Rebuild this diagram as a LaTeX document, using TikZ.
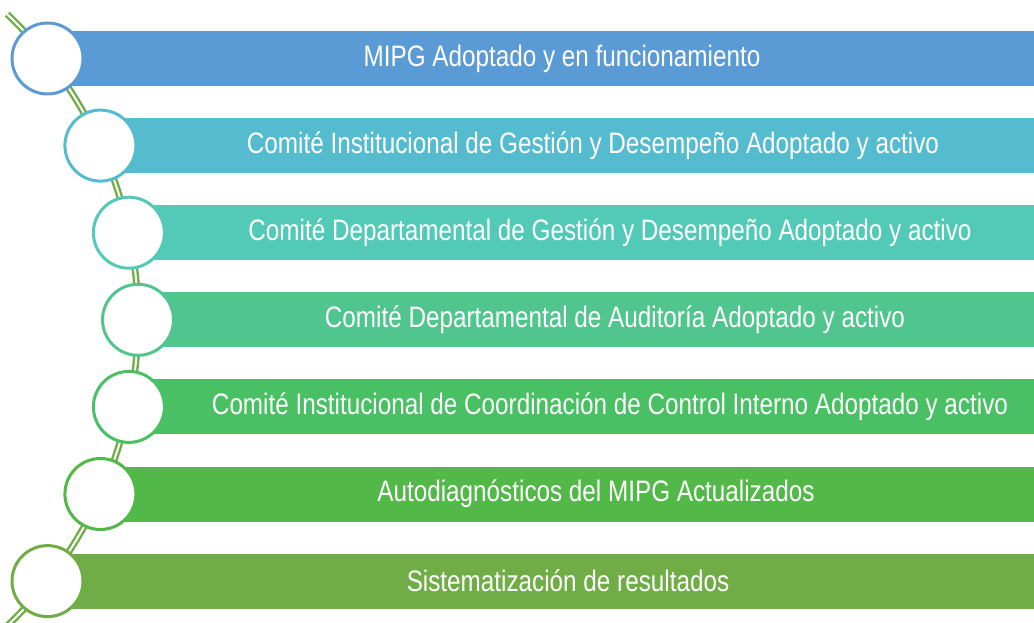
\documentclass[tikz,border=0pt]{standalone}
\usepackage{fontspec}
\setmainfont{Liberation Sans}[FakeStretch=0.82]
\usetikzlibrary{calc}
\definecolor{cAzul}{HTML}{5B9BD5}
\definecolor{cTurquesa}{HTML}{55BBCF}
\definecolor{cAguamarina}{HTML}{53CAB7}
\definecolor{cMenta}{HTML}{50C58E}
\definecolor{cVerdeClaro}{HTML}{4AC065}
\definecolor{cVerde}{HTML}{52B848}
\definecolor{cOliva}{HTML}{70AD47}

\begin{document}
\begin{tikzpicture}[
    x=0.5pt, y=0.5pt, font=\fontsize{14.8pt}{17pt}\selectfont,
    arco/.style={draw=cOliva, line width=1.2pt, double=white,
                 double distance=1pt},
    hito/.style={circle, fill=white, line width=1.5pt, inner sep=0pt,
                 minimum size=35.5pt},
    txt/.style={text=white, inner sep=0pt},
]
\useasboundingbox (0,0) rectangle (1034,622);
\clip (0,0) rectangle (1034,622);

% ===================== Arco de la lista =====================
\draw[arco] (-285,302) ++(-50:211.5pt)
      arc[start angle=-50, end angle=46.3, radius=211.5pt];

% ===================== Barras =====================
\fill[cAzul]       (47.5,536.0) rectangle (1034,591.0);
\fill[cTurquesa]   (100.4,448.9) rectangle (1034,503.9);
\fill[cAguamarina] (128.9,361.8) rectangle (1034,416.8);
\fill[cMenta]      (138.0,274.7) rectangle (1034,329.7);
\fill[cVerdeClaro] (128.9,187.6) rectangle (1034,242.6);
\fill[cVerde]      (100.4,100.5) rectangle (1034,155.5);
\fill[cOliva]      (47.5,13.4)   rectangle (1034,68.4);

% ===================== Circulos =====================
\node[hito, draw=cAzul]       (c1) at (47.5,563.5) {};
\node[hito, draw=cTurquesa]   (c2) at (100.4,476.4) {};
\node[hito, draw=cAguamarina] (c3) at (128.9,389.3) {};
\node[hito, draw=cMenta]      (c4) at (138.0,302.2) {};
\node[hito, draw=cVerdeClaro] (c5) at (128.9,215.1) {};
\node[hito, draw=cVerde]      (c6) at (100.4,128.0) {};
\node[hito, draw=cOliva]      (c7) at (47.5,40.9) {};

% ===================== Textos =====================
\node[txt] (t1) at (562,563.5) {MIPG Adoptado y en funcionamiento};
\node[txt] (t2) at (593,476.4)
      {Comité Institucional de Gestión y Desempeño Adoptado y activo};
\node[txt] (t3) at (610,389.3)
      {Comité Departamental de Gestión y Desempeño Adoptado y activo};
\node[txt] (t4) at (615,302.2)
      {Comité Departamental de Auditoría Adoptado y activo};
\node[txt] (t5) at (610,215.1)
      {Comité Institucional de Coordinación de Control Interno Adoptado y activo};
\node[txt] (t6) at (596,128.0) {Autodiagnósticos del MIPG Actualizados};
\node[txt] (t7) at (568,40.9) {Sistematización de resultados};

\end{tikzpicture}
\end{document}
